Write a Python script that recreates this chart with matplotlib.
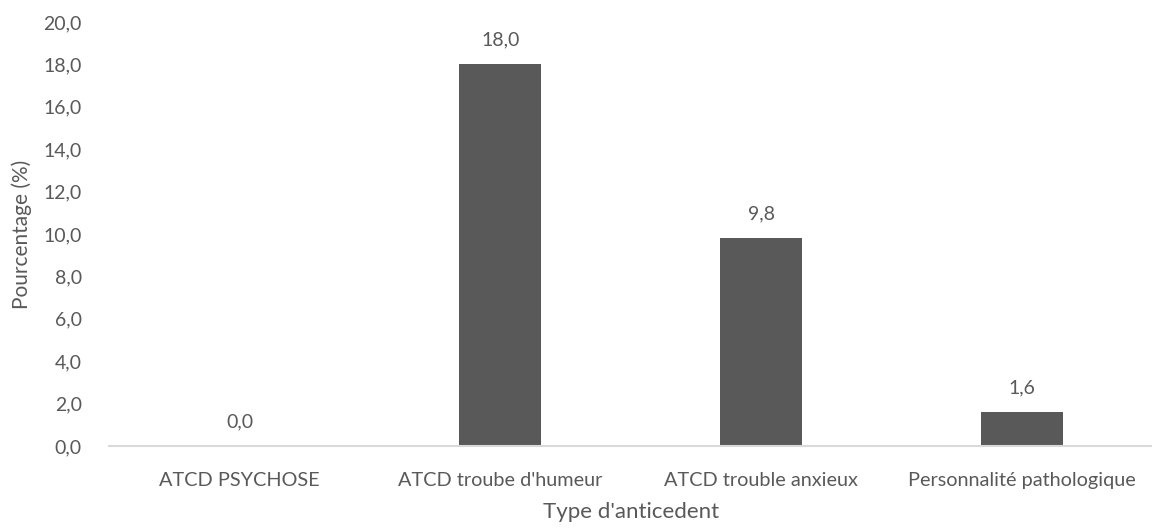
import matplotlib
matplotlib.use('Agg')
import matplotlib.pyplot as plt

categories = ['ATCD PSYCHOSE', "ATCD troube d'humeur", 'ATCD trouble anxieux', 'Personnalité pathologique']
values = [0.0, 18.0, 9.8, 1.6]
yticks = [0, 2, 4, 6, 8, 10, 12, 14, 16, 18, 20]

plt.rcParams['font.family'] = ['Lato', 'DejaVu Sans']
txt = '#595959'

fig = plt.figure(figsize=(11.52, 5.29), dpi=100)
ax = fig.add_axes([0.095, 0.157, 0.905, 0.8015])

x = range(len(categories))
ax.bar(x, values, width=0.315, color='#595959', zorder=2)
for xi, v in zip(x, values):
    ax.text(xi, v + 0.75, f'{v:.1f}'.replace('.', ','), ha='center', va='bottom',
            fontsize=14, color=txt)

ax.set_xlim(-0.5, len(categories) - 0.5)
ax.set_ylim(0, 20)
ax.set_yticks(yticks)
ax.set_yticklabels([f'{t:.1f}'.replace('.', ',') for t in yticks], fontsize=14, color=txt)
ax.set_xticks(list(x))
ax.set_xticklabels(categories, fontsize=14.3, color=txt)
ax.tick_params(axis='both', length=0)
ax.tick_params(axis='x', pad=19)
ax.tick_params(axis='y', pad=20)

for s in ['top', 'right', 'left']:
    ax.spines[s].set_visible(False)
ax.spines['bottom'].set_color('#d9d9d9')
ax.spines['bottom'].set_linewidth(1.5)

ax.set_xlabel("Type d'anticedent", fontsize=16, color=txt, labelpad=9)
ax.set_ylabel('Pourcentage (%)', fontsize=15, color=txt, labelpad=8)

fig.savefig('out.png', dpi=100)
